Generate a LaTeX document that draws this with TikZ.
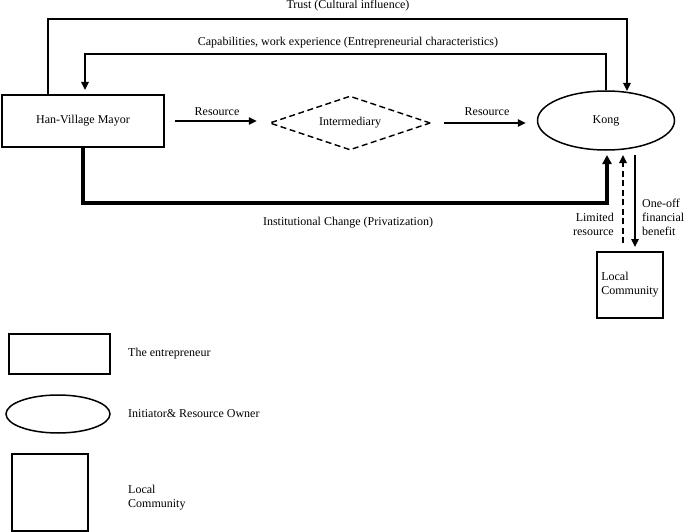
\documentclass[tikz,border=0pt]{standalone}
\usepackage{fontspec}
\setmainfont{Liberation Serif}
\usetikzlibrary{arrows.meta,shapes.geometric,calc}
\begin{document}
\begin{tikzpicture}[x=1pt,y=-1pt,
  every node/.style={font=\fontsize{12}{14}\selectfont},
  boxstyle/.style={draw,line width=1.5pt,inner sep=0pt},
  arr/.style={line width=1.4pt,-{Triangle[length=8pt,width=7.5pt]}},
  thickarr/.style={line width=4pt,-{Triangle[length=9pt,width=9pt]}},
  dsh/.style={dash pattern=on 6pt off 3.5pt},
  lbl/.style={inner sep=0pt}]
\useasboundingbox (0,0) rectangle (685,532);
% main nodes
\node[boxstyle,minimum width=162pt,minimum height=52pt] (mayor) at (83,121) {Han-Village Mayor};
\node[draw,dsh,line width=1.4pt,diamond,aspect=3,minimum width=161pt,minimum height=54pt,inner sep=0pt] (inter) at (350,123) {Intermediary};
\node[draw,ellipse,line width=1.5pt,minimum width=137pt,minimum height=59pt,inner sep=0pt] (kong) at (606,120.5) {Kong};
\node[boxstyle,minimum width=66pt,minimum height=66pt,align=left] (lc) at (630,285) {Local\\Community};
% coordinates
\coordinate (trA) at (48,95);
\coordinate (trB) at (627,91);
\coordinate (cpA) at (85,95);
\coordinate (inA) at (83,147);
\coordinate (inB) at (607,150);
\coordinate (dsA) at (623,243);
\coordinate (dsB) at (623,150);
\coordinate (ofA) at (635,155);
\coordinate (ofB) at (635,252);
% connectors
\draw[arr,shorten <=10pt,shorten >=12pt] (mayor.east) -- (mayor.east -| inter.west);
\node[lbl] (r1) at (217,112) {Resource};
\draw[arr,shorten <=13pt,shorten >=11pt] (inter.east) -- (inter.east -| kong.west);
\node[lbl] (r2) at (487,112) {Resource};
\draw[arr] (trA) -- (48,19) -- (627,19) -- (trB);
\node[lbl] (trust) at (348,6) {Trust (Cultural influence)};
\draw[arr,shorten >=5pt] (kong.north) -- (606,54) -- (85,54) -- (cpA);
\node[lbl] (cap) at (348,43) {Capabilities, work experience (Entrepreneurial characteristics)};
\draw[thickarr,shorten >=5pt] (inA) -- (83,203) -- (607,203) -- (inB);
\node[lbl] (inst) at (348,223) {Institutional Change (Privatization)};
\draw[arr,dsh,shorten >=5pt] (dsA) -- (dsB);
\node[lbl,align=right,anchor=east] (lim) at (614,224) {Limited\\resource};
\draw[arr,shorten >=5pt] (ofA) -- (ofB);
\node[lbl,align=left,anchor=west] (one) at (642,217) {One-off\\financial\\benefit};
% legend
\node[boxstyle,minimum width=101pt,minimum height=40pt] (lg1) at (59.5,354) {};
\node[lbl,anchor=west] (lt1) at (128,354) {The entrepreneur};
\node[draw,ellipse,line width=1.5pt,minimum width=104pt,minimum height=38pt,inner sep=0pt] (lg2) at (58,414) {};
\node[lbl,anchor=west] (lt2) at (128,414) {Initiator\& Resource Owner};
\node[boxstyle,minimum width=76pt,minimum height=77pt] (lg3) at (50,492.5) {};
\node[lbl,anchor=west,align=left] (lt3) at (128,498) {Local\\Community};
\end{tikzpicture}
\end{document}
